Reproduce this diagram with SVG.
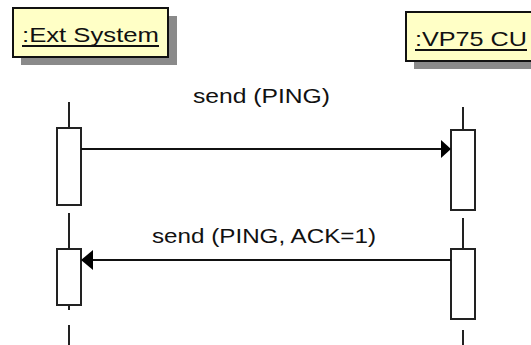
<svg xmlns="http://www.w3.org/2000/svg" width="531" height="345" viewBox="0 0 531 345">
<style>
.shadow{fill:#8a8a8a}
.obj{fill:#ffffc6;stroke:#111;stroke-width:2}
.lbl{font-family:"Liberation Sans",Arial,sans-serif;font-size:21px;fill:#111}
.ul{stroke:#111;stroke-width:2}
.life{stroke:#222;stroke-width:2;fill:none}
.act{fill:#fff;stroke:#222;stroke-width:2}
.msg{stroke:#111;stroke-width:2;fill:none}
.head{fill:#000}
.mlbl{font-family:"Liberation Sans",Arial,sans-serif;font-size:21px;fill:#111}
</style>
<rect width="531" height="345" fill="#fff"/>
<g id="ext-system">
<rect class="shadow" x="21" y="16" width="156" height="49"/>
<rect class="obj" x="13" y="8" width="155" height="49"/>
<text class="lbl" x="22" y="42" textLength="137" lengthAdjust="spacingAndGlyphs">:Ext  System</text>
<line class="ul" x1="22" y1="46" x2="159" y2="46"/>
<line class="life" x1="69" y1="102" x2="69" y2="128"/>
<rect class="act" x="57" y="128" width="24" height="77"/>
<line class="life" x1="69" y1="213" x2="69" y2="249"/>
<rect class="act" x="57" y="249" width="24" height="56"/>
<line class="life" x1="69" y1="305" x2="69" y2="310"/>
<line class="life" x1="69" y1="325" x2="69" y2="345"/>
</g>
<g id="vp75-cu">
<rect class="shadow" x="414" y="20" width="130" height="49"/>
<rect class="obj" x="406" y="12" width="140" height="49"/>
<text class="lbl" x="415" y="46" textLength="112" lengthAdjust="spacingAndGlyphs">:VP75  CU</text>
<line class="ul" x1="415" y1="50" x2="527" y2="50"/>
<line class="life" x1="463" y1="107" x2="463" y2="130"/>
<rect class="act" x="451" y="130" width="24" height="80"/>
<line class="life" x1="463" y1="218" x2="463" y2="249"/>
<rect class="act" x="451" y="249" width="24" height="70"/>
<line class="life" x1="463" y1="330" x2="463" y2="345"/>
</g>
<g id="connectors">
<line class="msg" x1="81" y1="149" x2="442" y2="149"/>
<polygon class="head" points="451,149 441,140 441,158"/>
<text class="mlbl" x="193" y="103" textLength="137" lengthAdjust="spacingAndGlyphs">send (PING)</text>
<line class="msg" x1="451" y1="260" x2="90" y2="260"/>
<polygon class="head" points="81,260 93,250 93,270"/>
<text class="mlbl" x="152" y="243" textLength="224" lengthAdjust="spacingAndGlyphs">send (PING, ACK=1)</text>
</g>
</svg>
